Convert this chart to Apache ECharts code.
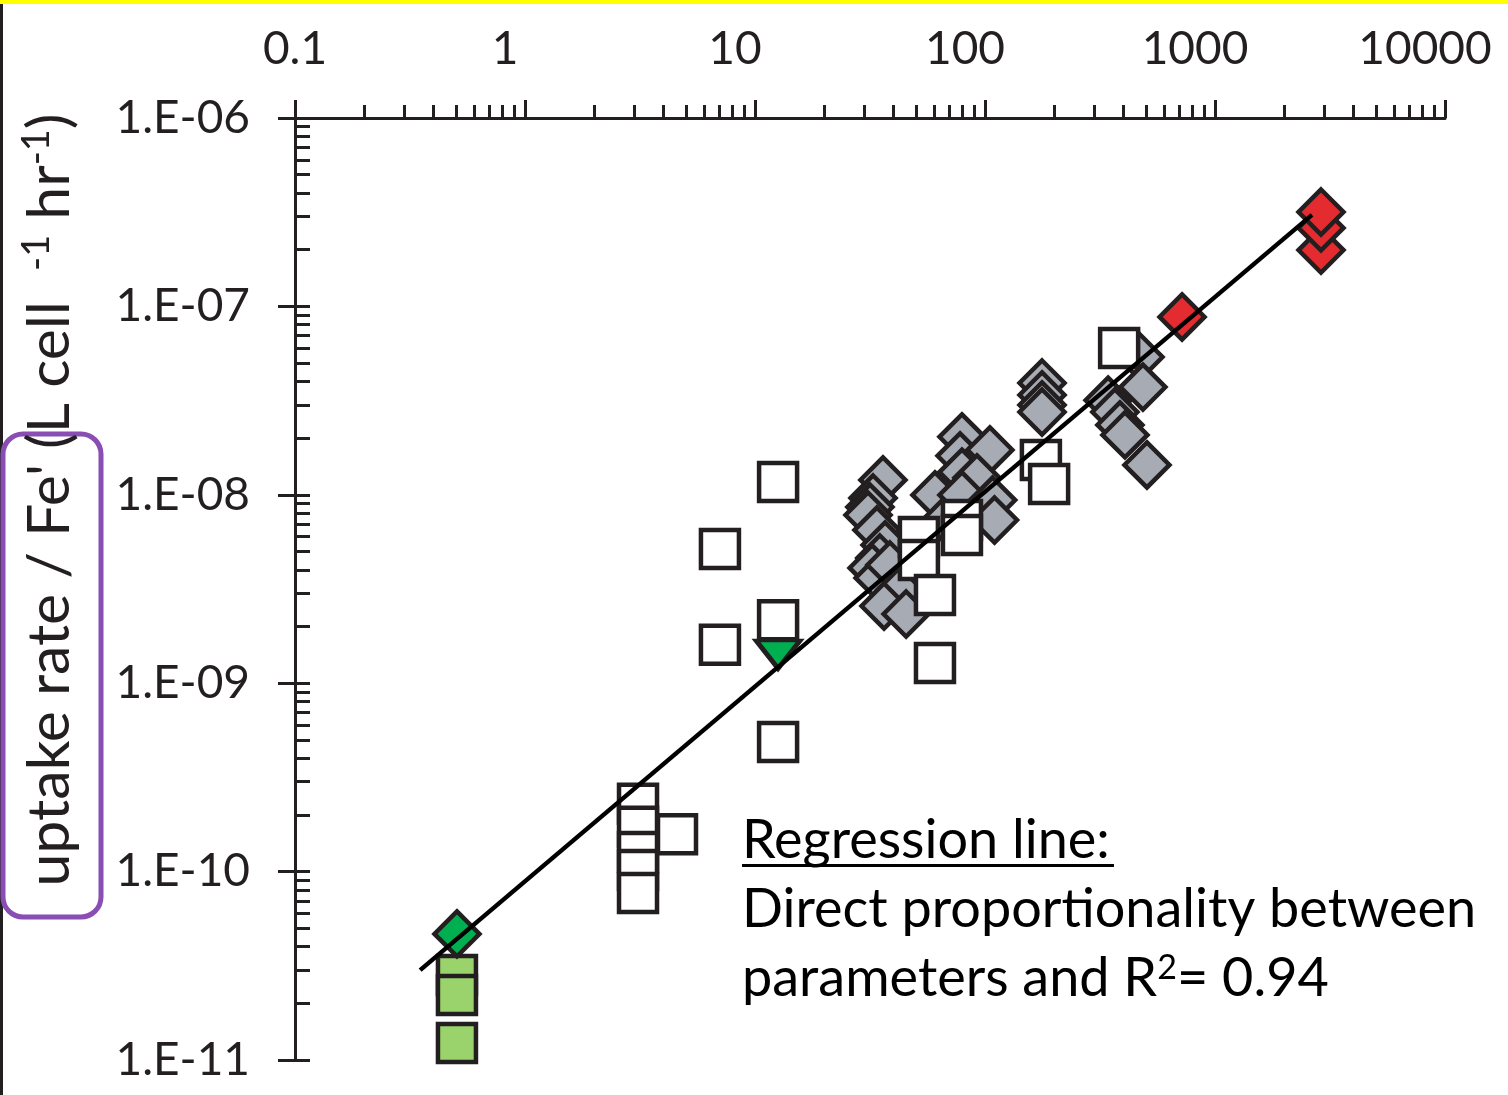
<!DOCTYPE html>
<html>
<head>
<meta charset="utf-8">
<title>uptake rate / Fe'</title>
<script src="https://cdn.jsdelivr.net/npm/echarts@6.0.0/dist/echarts.min.js"></script>
<style>
  html, body { margin: 0; padding: 0; background: #fff; }
  #chart { width: 1508px; height: 1095px; }
</style>
</head>
<body>
<div id="chart"></div>
<script>
// tick labels
var xTickLabels = ['0.1', '1', '10', '100', '1000', '10000']
var yTickLabels = ['1.E-11', '1.E-10', '1.E-09', '1.E-08', '1.E-07', '1.E-06']

// series values: [x, uptake rate / Fe']
var grayDiamonds = [
  [36.0, 1.20e-8], [32.6, 9.62e-9], [31.6, 8.61e-9], [31.0, 7.81e-9], [33.9, 6.50e-9],
  [36.8, 5.42e-9], [34.9, 4.62e-9], [32.3, 4.09e-9], [34.3, 3.62e-9], [38.6, 4.24e-9],
  [42.7, 3.13e-9], [36.4, 2.57e-9], [45.4, 2.33e-9], [60.6, 9.98e-9], [67.0, 7.35e-9],
  [79.4, 2.03e-8], [77.9, 1.61e-8], [79.4, 1.32e-8], [105, 1.73e-8], [92.3, 1.23e-8],
  [79.4, 9.98e-9], [108, 9.38e-9], [110, 7.35e-9],
  [177, 3.92e-8], [177, 3.39e-8], [177, 3.00e-8], [177, 2.75e-8],
  [472, 5.39e-8], [486, 3.73e-8], [343, 3.18e-8], [367, 2.75e-8], [386, 2.35e-8],
  [406, 2.08e-8], [506, 1.44e-8]
]
var openSquares = [
  [12.6, 1.17e-8], [7.04, 5.16e-9], [12.6, 2.16e-9], [7.04, 1.60e-9], [12.6, 4.88e-10],
  [3.10, 2.29e-10], [3.10, 1.73e-10], [3.10, 1.27e-10], [3.10, 1.02e-10], [3.10, 7.7e-11],
  [4.58, 1.58e-10],
  [51.6, 5.97e-9], [51.6, 4.51e-9], [79.4, 7.35e-9], [79.4, 6.12e-9],
  [60.6, 2.94e-9], [60.6, 1.28e-9],
  [175, 1.53e-8], [190, 1.14e-8], [383, 6.01e-8]
]
var lightGreenSquares = [[0.506, 2.83e-11], [0.506, 2.21e-11], [0.506, 1.23e-11]]
var greenDiamonds = [[0.506, 4.67e-11]]
var greenTriangles = [[12.6, 1.42e-9]]
var redDiamonds = [[719, 8.79e-8], [2890, 1.99e-7], [2890, 2.61e-7], [2890, 3.17e-7]]
var regression = [[0.35, 3.0e-11], [2640, 3.06e-7]]

// minor ticks of the log axes, in log10 units
function minorTicks (from, to) {
  var out = []
  for (var e = from; e < to; e++) {
    for (var k = 2; k <= 9; k++) out.push(e + Math.log10(k))
  }
  return out
}
function majorTicks (from, to) {
  var out = []
  for (var e = from; e <= to; e++) out.push(e)
  return out
}

var ink = '#231f20'
var font = 'Lato'

var chart = echarts.init(document.getElementById('chart'))

function scatter (name, data, symbol, size, color, extra) {
  return Object.assign({
    name: name,
    type: 'scatter',
    data: data,
    symbol: symbol,
    symbolSize: size,
    silent: true,
    itemStyle: { color: color, borderColor: ink, borderWidth: 4.5, opacity: 1 }
  }, extra || {})
}

chart.setOption({
  backgroundColor: '#fff',
  animation: false,
  grid: { left: 295, right: 63, top: 118, bottom: 35 },
  xAxis: [
    {
      type: 'log',
      position: 'top',
      min: 0.1,
      max: 10000,
      axisLine: { onZero: false, lineStyle: { color: ink, width: 3 } },
      axisTick: { length: 18, lineStyle: { color: ink, width: 3 } },
      splitLine: { show: false },
      axisLabel: {
        margin: 46,
        color: ink,
        fontFamily: font,
        fontSize: 46,
        formatter: function (v) {
          var i = Math.round(Math.log10(v)) + 1
          return i === 0 ? '{a|' + xTickLabels[i] + '}' : '{b|' + xTickLabels[i] + '}'
        },
        rich: {
          a: { fontFamily: font, fontSize: 46, color: ink },
          b: { fontFamily: font, fontSize: 46, color: ink, padding: [0, 40, 0, 0] }
        }
      }
    },
    {
      type: 'value',
      position: 'top',
      min: -1,
      max: 4,
      axisLine: { show: false, onZero: false },
      axisLabel: { show: false },
      splitLine: { show: false },
      axisTick: { show: true, length: 13, customValues: minorTicks(-1, 4), lineStyle: { color: ink, width: 3 } }
    }
  ],
  yAxis: [
    {
      type: 'log',
      position: 'left',
      min: 1e-11,
      max: 1e-6,
      axisLine: { onZero: false, lineStyle: { color: ink, width: 3 } },
      axisTick: { length: 17, lineStyle: { color: ink, width: 3 } },
      splitLine: { show: false },
      axisLabel: {
        margin: 45,
        color: ink,
        fontFamily: font,
        fontSize: 46,
        formatter: function (v) {
          return yTickLabels[Math.round(Math.log10(v)) + 11]
        }
      }
    },
    {
      type: 'value',
      position: 'left',
      min: -11,
      max: -6,
      axisLine: { show: false, onZero: false },
      axisLabel: { show: false },
      splitLine: { show: false },
      axisTick: {
        show: true,
        inside: true,
        length: 15,
        customValues: majorTicks(-11, -6).concat(minorTicks(-11, -6)),
        lineStyle: { color: ink, width: 3 }
      }
    }
  ],
  series: [
    scatter('gray', grayDiamonds, 'diamond', 45, '#a7abb3'),
    scatter('open', openSquares, 'rect', 38, '#ffffff'),
    scatter('light green', lightGreenSquares, 'rect', 38, '#9ad36b'),
    scatter('green', greenDiamonds, 'diamond', 45, '#00b050'),
    scatter('green triangle', greenTriangles, 'triangle', [44, 28], '#00b050', { symbolRotate: 180 }),
    scatter('red', redDiamonds, 'diamond', 45, '#e42b2f'),
    {
      name: 'regression',
      type: 'line',
      data: regression,
      showSymbol: false,
      silent: true,
      lineStyle: { color: '#000', width: 4.5 }
    }
  ],
  graphic: [
    { type: 'rect', shape: { x: 0, y: 0, width: 1508, height: 4 }, style: { fill: '#ffff00' } },
    { type: 'rect', shape: { x: 0, y: 4, width: 3, height: 1091 }, style: { fill: ink } },
    {
      type: 'rect',
      shape: { x: 3, y: 434, width: 98, height: 483, r: 20 },
      style: { fill: 'none', stroke: '#8a4db3', lineWidth: 5 }
    },
    {
      type: 'text',
      x: 50,
      y: 500,
      rotation: Math.PI / 2,
      style: {
        text: "uptake rate / Fe' (L cell  {s|-1} hr{s|-1})",
        fill: ink,
        font: '59px Lato',
        align: 'center',
        verticalAlign: 'middle',
        rich: {
          s: { fontFamily: font, fontSize: 38, fill: ink, padding: [0, 0, 26, 0] }
        }
      }
    },
    {
      type: 'text',
      left: 742,
      top: 814,
      style: { text: 'Regression line:', fill: '#000', font: '54px Lato' }
    },
    { type: 'rect', shape: { x: 742, y: 864, width: 372, height: 3 }, style: { fill: '#000' } },
    {
      type: 'text',
      left: 742,
      top: 883,
      style: { text: 'Direct proportionality between', fill: '#000', font: '54px Lato' }
    },
    {
      type: 'text',
      left: 742,
      top: 951,
      style: {
        text: 'parameters and R{s|2}= 0.94',
        fill: '#000',
        font: '54px Lato',
        rich: {
          s: { fontFamily: font, fontSize: 34, fill: '#000', padding: [0, 0, 22, 0] }
        }
      }
    }
  ]
})
</script>
</body>
</html>
